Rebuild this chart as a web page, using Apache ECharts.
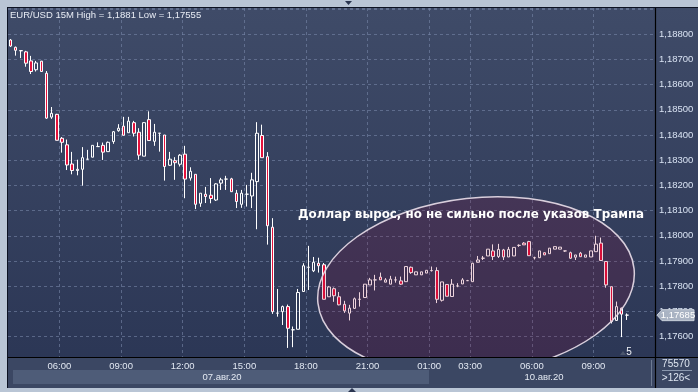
<!DOCTYPE html>
<html><head><meta charset="utf-8">
<script src="https://cdn.jsdelivr.net/npm/echarts@6/dist/echarts.min.js"></script>
<style>html,body{margin:0;padding:0;background:#b9c5d5;}#c{width:698px;height:392px;}</style>
</head><body><div id="c"></div>
<script>
// ---- text ----
const titleText = 'EUR/USD 15M High = 1,1881 Low = 1,17555';
const noteText = 'Доллар вырос, но не сильно после указов Трампа';
const dateLabels = ['07.авг.20', '10.авг.20'];
const shownTimes = ['06:00','09:00','12:00','15:00','18:00','21:00','01:00','03:00'];
const cornerTop = '75570';
const cornerBottom = '>126<';
const markerText = '5';

// ---- sessions (15-minute candles) ----
const sessions = [['03:30','22:45'], ['00:00','10:30']];
const padSlots = 5;

// ---- OHLC values ----
const open = [1.18777,1.18748,1.18735,1.18730,1.18694,1.18659,1.18693,1.18645,1.18471,1.18482,
1.18387,1.18361,1.18285,1.18259,1.18264,1.18304,1.18312,1.18354,1.18359,1.18334,
1.18374,1.18417,1.18435,1.18409,1.18449,1.18411,1.18316,1.18461,1.18375,1.18407,
1.18400,1.18280,1.18298,1.18284,1.18324,1.18229,1.18244,1.18129,1.18165,1.18161,
1.18142,1.18209,1.18225,1.18226,1.18169,1.18125,1.18165,1.18158,1.18215,1.18398,
1.18314,1.18034,1.17693,1.17699,1.17719,1.17627,1.17629,1.17779,1.17875,1.17861,
1.17891,1.17885,1.17758,1.17790,1.17758,1.17728,1.17693,1.17712,1.17748,1.17755,
1.17805,1.17825,1.17836,1.17816,1.17808,1.17825,1.17821,1.17818,1.17875,1.17845,
1.17845,1.17852,1.17862,1.17862,1.17744,1.17807,1.17759,1.17801,1.17809,1.17822,
1.17818,1.17895,1.17911,1.17920,1.17940,1.17918,1.17944,1.17916,1.17920,1.17962,
1.17971,1.17977,1.17913,1.17913,1.17933,1.17929,1.17947,1.17947,1.17940,1.17933,
1.17915,1.17931,1.17915,1.17916,1.17937,1.17971,1.17898,1.17798,1.17664,1.17713,
1.17685];
const close = [1.18753,1.18736,1.18734,1.18685,1.18652,1.18686,1.18652,1.18467,1.18486,1.18379,
1.18371,1.18281,1.18259,1.18264,1.18310,1.18304,1.18359,1.18354,1.18332,1.18371,
1.18413,1.18427,1.18399,1.18455,1.18407,1.18320,1.18449,1.18378,1.18411,1.18407,
1.18275,1.18304,1.18290,1.18320,1.18225,1.18256,1.18125,1.18169,1.18156,1.18148,
1.18206,1.18222,1.18225,1.18175,1.18136,1.18169,1.18165,1.18222,1.18407,1.18310,
1.18040,1.17699,1.17693,1.17719,1.17633,1.17627,1.17775,1.17881,1.17875,1.17895,
1.17881,1.17748,1.17797,1.17762,1.17726,1.17702,1.17713,1.17750,1.17748,1.17808,
1.17825,1.17825,1.17825,1.17825,1.17828,1.17825,1.17808,1.17878,1.17854,1.17857,
1.17857,1.17863,1.17862,1.17748,1.17817,1.17760,1.17808,1.17801,1.17825,1.17822,
1.17891,1.17904,1.17911,1.17947,1.17918,1.17946,1.17916,1.17946,1.17954,1.17962,
1.17964,1.17921,1.17913,1.17940,1.17924,1.17951,1.17957,1.17955,1.17940,1.17911,
1.17924,1.17917,1.17924,1.17940,1.17967,1.17902,1.17805,1.17660,1.17719,1.17689,
1.17685];
const low = [1.18749,1.18715,1.18705,1.18671,1.18642,1.18652,1.18650,1.18464,1.18464,1.18379,
1.18330,1.18261,1.18244,1.18240,1.18199,1.18304,1.18312,1.18354,1.18301,1.18334,
1.18365,1.18413,1.18399,1.18409,1.18394,1.18302,1.18316,1.18378,1.18357,1.18334,
1.18219,1.18277,1.18222,1.18275,1.18149,1.18219,1.18106,1.18115,1.18130,1.18129,
1.18138,1.18182,1.18182,1.18174,1.18110,1.18111,1.18116,1.18110,1.18026,1.18310,
1.17965,1.17690,1.17679,1.17646,1.17555,1.17558,1.17629,1.17777,1.17785,1.17856,
1.17854,1.17748,1.17758,1.17738,1.17724,1.17694,1.17664,1.17710,1.17719,1.17755,
1.17805,1.17783,1.17825,1.17816,1.17808,1.17814,1.17805,1.17818,1.17849,1.17845,
1.17845,1.17852,1.17858,1.17733,1.17739,1.17760,1.17759,1.17796,1.17809,1.17821,
1.17818,1.17894,1.17904,1.17920,1.17904,1.17912,1.17904,1.17916,1.17920,1.17956,
1.17964,1.17920,1.17906,1.17912,1.17924,1.17929,1.17947,1.17947,1.17936,1.17908,
1.17904,1.17916,1.17915,1.17916,1.17937,1.17902,1.17794,1.17652,1.17664,1.17598,
1.17666];
const high = [1.18781,1.18751,1.18735,1.18734,1.18714,1.18694,1.18694,1.18654,1.18511,1.18484,
1.18392,1.18382,1.18333,1.18302,1.18352,1.18341,1.18359,1.18371,1.18370,1.18374,
1.18416,1.18443,1.18472,1.18472,1.18456,1.18427,1.18451,1.18494,1.18444,1.18407,
1.18400,1.18333,1.18312,1.18324,1.18357,1.18272,1.18244,1.18169,1.18194,1.18229,
1.18209,1.18230,1.18238,1.18230,1.18182,1.18182,1.18202,1.18250,1.18451,1.18441,
1.18332,1.18070,1.17789,1.17723,1.17727,1.17640,1.17789,1.17891,1.17960,1.17916,
1.17913,1.17892,1.17801,1.17795,1.17777,1.17742,1.17726,1.17755,1.17776,1.17808,
1.17833,1.17845,1.17854,1.17832,1.17841,1.17838,1.17838,1.17878,1.17878,1.17857,
1.17857,1.17863,1.17878,1.17875,1.17817,1.17808,1.17828,1.17812,1.17832,1.17825,
1.17893,1.17920,1.17920,1.17947,1.17966,1.17968,1.17948,1.17956,1.17954,1.17966,
1.17975,1.17980,1.17917,1.17940,1.17933,1.17951,1.17957,1.17955,1.17940,1.17937,
1.17924,1.17936,1.17924,1.17940,1.18000,1.17993,1.17898,1.17798,1.17739,1.17715,
1.17692];

// ---- build categories ----
function pad(n){ return (n < 10 ? '0' : '') + n; }
function buildTimes(from, to){
  const out = [];
  let [h, m] = from.split(':').map(Number);
  const [th, tm] = to.split(':').map(Number);
  while (h * 60 + m <= th * 60 + tm) { out.push(pad(h) + ':' + pad(m)); m += 15; if (m >= 60) { m -= 60; h++; } }
  return out;
}
let categories = [];
sessions.forEach(s => { categories = categories.concat(buildTimes(s[0], s[1])); });
for (let i = 0; i < padSlots; i++) categories.push('');

const ohlc = open.map((o, i) => [o, close[i], low[i], high[i]]);
const lastClose = close[close.length - 1];
const fmt = v => v.toFixed(5).replace('.', ',');
const showIdx = (idx, val) => shownTimes.indexOf(val) >= 0;

const FONT = '"Liberation Sans", Arial, sans-serif';
const chart = echarts.init(document.getElementById('c'), null, {renderer: 'canvas'});

const bgGraphics = [
  {id:'panel', type:'rect', z:-10, silent:true, shape:{x:8, y:8, width:690, height:380},
   style:{fill:{type:'linear', x:0, y:0, x2:0, y2:1, colorStops:[{offset:0, color:'#3f4b68'},{offset:1, color:'#2a3554'}]}}},
  {id:'xrow', type:'rect', z:-9, silent:true, shape:{x:8, y:357, width:690, height:31}, style:{fill:'#3b4763'}},
  {id:'band', type:'rect', z:-8, silent:true, shape:{x:13, y:370, width:416, height:14}, style:{fill:'#4e5c78'}},
  {id:'bandR', type:'rect', z:-8, silent:true, shape:{x:429, y:370, width:223, height:14}, style:{fill:'#3b4763'}},
  {id:'topLine', type:'line', z:5, silent:true, shape:{x1:8, y1:7.5, x2:698, y2:7.5}, style:{stroke:'#0c1222', lineWidth:1}},
  {id:'leftLine', type:'line', z:5, silent:true, shape:{x1:7.5, y1:7, x2:7.5, y2:388}, style:{stroke:'#0c1222', lineWidth:1}},
  {id:'axisLineX', type:'line', z:5, silent:true, shape:{x1:8, y1:357.5, x2:698, y2:357.5}, style:{stroke:'#000000', lineWidth:1.2}},
  {id:'axisLineY', type:'line', z:5, silent:true, shape:{x1:655.5, y1:8, x2:655.5, y2:388}, style:{stroke:'#000000', lineWidth:1.2}},
  {id:'sep', type:'line', z:5, silent:true, shape:{x1:651.5, y1:360, x2:651.5, y2:386}, style:{stroke:'#6d7a92', lineWidth:1}},
  {id:'cornerSep', type:'line', z:5, silent:true, shape:{x1:662, y1:370.5, x2:692, y2:370.5}, style:{stroke:'#8a97ad', lineWidth:1}},
  {id:'cornerTop', type:'text', z:6, silent:true, style:{text:cornerTop, x:676, y:364, align:'center', verticalAlign:'middle', fill:'#dfe6f1', font:'10px ' + FONT}},
  {id:'cornerBottom', type:'text', z:6, silent:true, style:{text:cornerBottom, x:676, y:378, align:'center', verticalAlign:'middle', fill:'#dfe6f1', font:'10px ' + FONT}},
  {id:'date1', type:'text', z:6, silent:true, style:{text:dateLabels[0], x:222, y:377.5, align:'center', verticalAlign:'middle', fill:'#e4eaf3', font:'9.5px ' + FONT}},
  {id:'date2', type:'text', z:6, silent:true, style:{text:dateLabels[1], x:544, y:377.5, align:'center', verticalAlign:'middle', fill:'#e4eaf3', font:'9.5px ' + FONT}},
  {id:'title', type:'text', z:6, silent:true, style:{text:titleText, x:10, y:15, align:'left', verticalAlign:'middle', fill:'#e8ecf4', font:'9.5px ' + FONT}},
  {id:'note', type:'text', z:20, silent:true, style:{text:noteText, x:298, y:215, align:'left', verticalAlign:'middle', fill:'#ffffff', font:'bold 11.9px "DejaVu Sans", sans-serif', shadowColor:'rgba(0,0,0,0.7)', shadowBlur:2}},
  {id:'marker', type:'text', z:6, silent:true, style:{text:markerText, x:629, y:352, align:'center', verticalAlign:'middle', fill:'#f2f4f8', font:'10px ' + FONT}},
  {id:'markerTri', type:'polygon', z:6, silent:true, shape:{points:[[620,355],[626,355],[623,351]]}, style:{fill:'#4a556c'}},
  {id:'triTop', type:'polygon', z:6, silent:true, shape:{points:[[345,1],[352,1],[348.5,5]]}, style:{fill:'#2a3550'}},
  {id:'triBot', type:'polygon', z:6, silent:true, shape:{points:[[348,392],[356,392],[352,388]]}, style:{fill:'#2a3550'}}
];

const option = {
  animation: false,
  backgroundColor: '#b9c5d5',
  grid: {left: 8, right: 43, top: 8, bottom: 35, containLabel: false},
  xAxis: {
    type: 'category', data: categories, boundaryGap: true,
    axisLine: {show: false}, axisTick: {show: false},
    axisLabel: {interval: showIdx, color: '#e2e8f2', fontSize: 9.5, fontFamily: FONT, margin: 4,
      formatter: v => '{a|' + v + '}', rich: {a: {color:'#e2e8f2', fontSize: 9.5, fontFamily: FONT, padding: [0, 5, 0, 0]}}},
    splitLine: {show: true, interval: showIdx, lineStyle: {color: 'rgba(120,135,168,0.6)', type: [3, 3], width: 1}}
  },
  yAxis: {
    type: 'value', position: 'right', scale: true, min: 1.17519, max: 1.18904, splitNumber: 14,
    axisLine: {show: false}, axisTick: {show: false},
    axisLabel: {color: '#d8e2f2', fontSize: 9.5, fontFamily: FONT, margin: 4, align: 'left',
      formatter: v => (v < 1.1755 || v > 1.1885) ? '' : fmt(v)},
    splitLine: {show: true, lineStyle: {color: 'rgba(120,135,168,0.6)', type: [3, 3], width: 1}}
  },
  series: [
    {type: 'candlestick', data: ohlc, barWidth: 3, z: 2,
     itemStyle: {color: 'rgba(0,0,0,0)', color0: '#e5123c', borderColor: '#ffffff', borderColor0: '#ffffff', borderWidth: 1}},
    {type: 'custom', z: 5, silent: true, clip: true, data: [[60, 1.178]],
     renderItem: function () {
       return {type: 'ellipse', x: 476, y: 286, rotation: 0.11,
         shape: {cx: 0, cy: 0, rx: 159, ry: 88},
         style: {fill: 'rgba(150,0,50,0.17)', stroke: 'rgba(225,215,228,0.95)', lineWidth: 1.5}};
     }}
  ],
  graphic: {elements: bgGraphics}
};
chart.setOption(option);

// price tag at the last close, positioned through the y-axis scale
const ty = chart.convertToPixel({yAxisIndex: 0}, lastClose);
option.graphic = {elements: bgGraphics.concat([
  {id:'tagBox', type:'polygon', z:30, silent:true, shape:{points:[[657, ty], [662, ty-5.5], [694, ty-5.5], [694, ty+5.5], [662, ty+5.5]]}, style:{fill:'#a9b3c3', stroke:'#c9d0db', lineWidth:1}},
  {id:'tagText', type:'text', z:31, silent:true, style:{text: fmt(lastClose), x: 678, y: ty, align:'center', verticalAlign:'middle', fill:'#ffffff', font:'9.5px ' + FONT}}
])};
chart.setOption(option, true);
</script></body></html>
